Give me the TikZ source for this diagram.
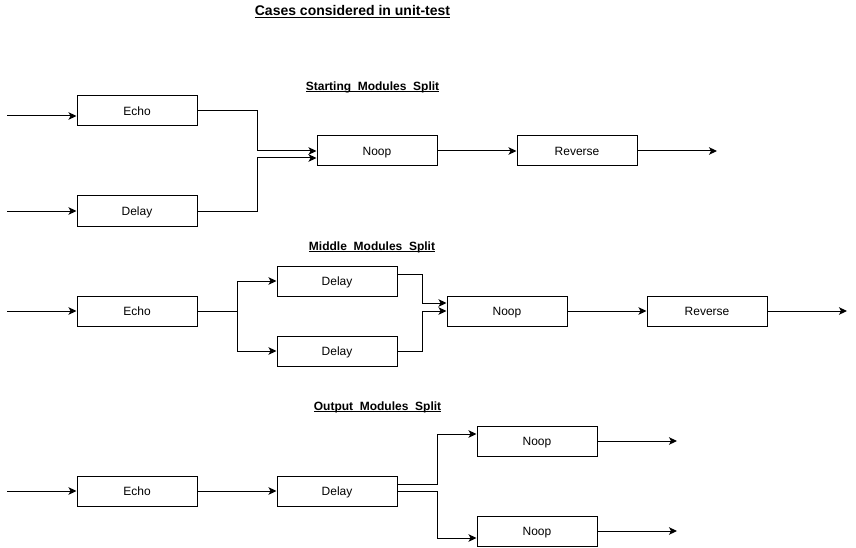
\documentclass[tikz,border=0pt]{standalone}
\usepackage{fontspec}
\setmainfont{Liberation Sans}
\usetikzlibrary{arrows.meta,positioning}

\newcommand\ulhead[1]{\underline{\vphantom{A}\smash{#1}}}

\tikzset{
  module/.style={draw, line width=1pt, minimum width=120pt, minimum height=30pt,
    inner sep=0pt, text height=10.5pt, text depth=1.9pt, font=\fontsize{12}{14}\selectfont},
  flow/.style={draw, line width=1pt, -{Stealth[length=8pt,width=7.5pt,inset=2pt]}},
  heading/.style={font=\bfseries\fontsize{12}{14}\selectfont},
}

\begin{document}
\begin{tikzpicture}[x=1pt,y=-1pt]

        \useasboundingbox (0,0) rectangle (856,548);

        \node[heading, font=\bfseries\fontsize{14}{16}\selectfont] (title) at (352.5,12) {\ulhead{Cases considered in unit-test}};

        % starting modules split
        \node[heading] (headA) at (372.5,87) {\ulhead{Starting\_Modules\_Split}};

        \begin{scope}[every node/.style={module}]
          \node (echoA)  at (137,111) {Echo};
          \node (delayA) at (137,211) {Delay};
          \node (noopA)  at (377,151) {Noop};
          \node (revA)   at (577,151) {Reverse};
        \end{scope}

        \coordinate (inA1) at (7,116);
        \coordinate (inA2) at (7,211);
        \coordinate (outA) at (717,151);

        \path[flow] (inA1) -- (inA1 -| echoA.west);
        \path[flow] (inA2) -- (delayA);
        \path[flow] (echoA.east) -- ++(60,0) |- (noopA.west);
        \path[flow] (delayA.east) -- ++(60,0) |- ([yshift=-7pt]noopA.west);
        \path[flow] (noopA) -- (revA);
        \path[flow] (revA) -- (outA);

        % middle modules split
        \node[heading] (headB) at (372,247) {\ulhead{Middle\_Modules\_Split}};

        \begin{scope}[every node/.style={module}]
          \node (echoB)   at (137,311) {Echo};
          \node (delayB1) at (337,281) {Delay};
          \node (delayB2) at (337,351) {Delay};
          \node (noopB)   at (507,311) {Noop};
          \node (revB)    at (707,311) {Reverse};
        \end{scope}

        \coordinate (inB)  at (7,311);
        \coordinate (outB) at (847,311);

        \path[flow] (inB) -- (echoB);
        \path[flow] (echoB.east) -- ++(40,0) |- (delayB1.west);
        \path[flow] (echoB.east) -- ++(40,0) |- (delayB2.west);
        \path[flow] ([yshift=7pt]delayB1.east) -- ++(25,0) |- ([yshift=8pt]noopB.west);
        \path[flow] (delayB2.east) -- ++(25,0) |- (noopB.west);
        \path[flow] (noopB) -- (revB);
        \path[flow] (revB) -- (outB);

        % output modules split
        \node[heading] (headC) at (377.5,407) {\ulhead{Output\_Modules\_Split}};

        \begin{scope}[every node/.style={module}]
          \node (echoC)  at (137,491) {Echo};
          \node (delayC) at (337,491) {Delay};
          \node (noopC1) at (537,441) {Noop};
          \node (noopC2) at (537,531) {Noop};
        \end{scope}

        \coordinate (inC)   at (7,491);
        \coordinate (outC1) at (677,441);
        \coordinate (outC2) at (677,531);

        \path[flow] (inC) -- (echoC);
        \path[flow] (echoC) -- (delayC);
        \path[flow] ([yshift=7pt]delayC.east) -- ++(40,0) |- ([yshift=7pt]noopC1.west);
        \path[flow] (delayC.east) -- ++(40,0) |- ([yshift=-7pt]noopC2.west);
        \path[flow] (noopC1) -- (outC1);
        \path[flow] (noopC2) -- (outC2);

\end{tikzpicture}
\end{document}
